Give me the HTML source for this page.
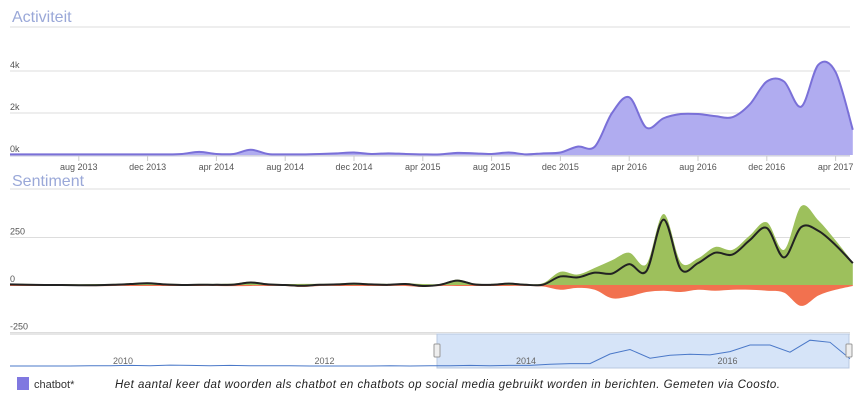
<!DOCTYPE html>
<html><head><meta charset="utf-8"><style>
body{margin:0;background:#fff;width:867px;height:405px;overflow:hidden;font-family:"Liberation Sans",sans-serif}
svg{display:block}
</style></head><body>
<svg id="c" width="867" height="405" xmlns="http://www.w3.org/2000/svg"></svg>
<script>
const months=['apr 2013','may','jun','jul','aug 2013','sep','oct','nov','dec 2013','jan','feb','mar','apr 2014','may','jun','jul','aug 2014','sep','oct','nov','dec 2014','jan','feb','mar','apr 2015','may','jun','jul','aug 2015','sep','oct','nov','dec 2015','jan','feb','mar','apr 2016','may','jun','jul','aug 2016','sep','oct','nov','dec 2016','jan','feb','mar','apr 2017','may'];
const activity=[0.03,0.03,0.03,0.03,0.03,0.03,0.03,0.03,0.03,0.03,0.05,0.15,0.05,0.05,0.25,0.05,0.03,0.03,0.05,0.08,0.12,0.05,0.08,0.05,0.03,0.03,0.1,0.08,0.05,0.12,0.03,0.08,0.12,0.4,0.4,2.0,2.75,1.3,1.75,1.95,1.95,1.85,1.8,2.4,3.5,3.5,2.3,4.3,3.95,1.2];
const positive=[8,6,5,5,4,5,6,10,14,8,5,6,6,8,18,8,5,6,6,8,12,8,6,10,5,6,28,8,6,12,6,10,70,55,90,130,170,110,374,120,140,200,185,260,330,185,415,340,235,120];
const negative=[-5,-5,-5,-5,-5,-6,-5,-5,-5,-5,-5,-5,-5,-6,-5,-5,-5,-10,-5,-5,-5,-5,-5,-5,-10,-5,-5,-5,-5,-5,-5,-8,-25,-15,-25,-70,-60,-37,-30,-37,-25,-30,-25,-25,-30,-40,-110,-55,-25,-5];
const navValues=[0,0,0,0,0.05,0.05,0.1,0.05,0.15,0.1,0.05,0.1,0.05,0.05,0.05,0,0,0,0,0.05,0,0.05,0.05,0.1,0.05,0.1,0.1,0.3,0.4,0.4,2.0,2.75,1.3,1.8,1.95,1.85,2.4,3.5,3.5,2.3,4.3,3.95,1.2];
const xTicks=['aug 2013','dec 2013','apr 2014','aug 2014','dec 2014','apr 2015','aug 2015','dec 2015','apr 2016','aug 2016','dec 2016','apr 2017'];
const actTicks=[0,2,4];
const sentTicks=[-250,0,250];
const navYears=['2010','2012','2014','2016'];

const S=document.getElementById('c');const NS='http://www.w3.org/2000/svg';
function mk(t,a,p){const e=document.createElementNS(NS,t);for(const k in a)e.setAttribute(k,a[k]);(p||S).appendChild(e);return e;}
const X0=10,DX=17.2;
const x=i=>X0+DX*i;
const yA=v=>155-v*21;
const yS=v=>285-v*0.19;
function smooth(pts){let d='M'+pts[0][0]+','+pts[0][1];for(let i=0;i<pts.length-1;i++){const p0=pts[i-1]||pts[i],p1=pts[i],p2=pts[i+1],p3=pts[i+2]||p2;
d+=` C${p1[0]+(p2[0]-p0[0])/6},${p1[1]+(p2[1]-p0[1])/6} ${p2[0]-(p3[0]-p1[0])/6},${p2[1]-(p3[1]-p1[1])/6} ${p2[0]},${p2[1]}`;}return d;}

let t=mk('text',{x:12,y:22,'font-size':16,fill:'#9aa8d8'});t.textContent='Activiteit';

t=mk('text',{x:12,y:186,'font-size':16,fill:'#9aa8d8'});t.textContent='Sentiment';

mk('line',{x1:10,x2:850,y1:27,y2:27,stroke:'#ddd'});
mk('line',{x1:10,x2:850,y1:189,y2:189,stroke:'#ddd'});

actTicks.forEach(v=>{const l=mk('line',{x1:10,x2:850,y1:yA(v),y2:yA(v),stroke:'#ddd'});

const tx=mk('text',{x:10,y:yA(v)-3,'font-size':9,fill:'#555'});tx.textContent=v+'k';
});
const ap=activity.map((v,i)=>[x(i),yA(v)]);
const line=smooth(ap);
let a=mk('path',{d:line+` L${x(activity.length-1)},155 L${x(0)},155 Z`,fill:'#b0acf0'});

a=mk('path',{d:line,fill:'none',stroke:'#7a70d8','stroke-width':2});

mk('line',{x1:10,x2:850,y1:156,y2:156,stroke:'#c8c8e0'});
xTicks.forEach(lbl=>{const i=months.indexOf(lbl);
mk('line',{x1:x(i),x2:x(i),y1:156,y2:161,stroke:'#ccc'});
const tx=mk('text',{x:x(i),y:170,'font-size':9,fill:'#555','text-anchor':'middle'});tx.textContent=lbl;
});

sentTicks.forEach(v=>{const l=mk('line',{x1:10,x2:850,y1:yS(v),y2:yS(v),stroke:'#ddd'});

const tx=mk('text',{x:10,y:yS(v)-3,'font-size':9,fill:'#555'});tx.textContent=v;
});
const n=positive.length;
const pl=smooth(positive.map((v,i)=>[x(i),yS(v)]));
let p=mk('path',{d:pl+` L${x(n-1)},${yS(0)} L${x(0)},${yS(0)} Z`,fill:'#9dc05c'});

const nl=smooth(negative.map((v,i)=>[x(i),yS(v)]));
p=mk('path',{d:nl+` L${x(n-1)},${yS(0)} L${x(0)},${yS(0)} Z`,fill:'#f2714f'});

p=mk('path',{d:smooth(positive.map((v,i)=>[x(i),yS(v+negative[i])])),fill:'none',stroke:'#222','stroke-width':2});


mk('line',{x1:10,x2:850,y1:334,y2:334,stroke:'#ccc'});
let r=mk('rect',{x:437,y:334,width:412,height:34,fill:'#d6e4f8',stroke:'#b8c8e0'});

navYears.forEach((yr,i)=>{const tx=mk('text',{x:123+201.5*i,y:364,'font-size':9,fill:'#666','text-anchor':'middle'});tx.textContent=yr;
});
const nx=i=>10+i*(840/(navValues.length-1));
const ny=v=>366-v*6;
let nv=mk('path',{d:'M'+navValues.map((v,i)=>nx(i)+','+ny(v)).join(' L'),fill:'none',stroke:'#4a78c8','stroke-width':1});

[437,849].forEach(hx=>{const h=mk('rect',{x:hx-3,y:344,width:6,height:13,fill:'#eee',stroke:'#999',rx:1});
});

r=mk('rect',{x:17,y:377,width:12,height:13,fill:'#8078e0'});

t=mk('text',{x:34,y:388,'font-size':11,fill:'#333'});t.textContent='chatbot*';

t=mk('text',{x:115,y:388,'font-size':11.5,fill:'#222','font-style':'italic',textLength:665,lengthAdjust:'spacing'});t.textContent='Het aantal keer dat woorden als chatbot en chatbots op social media gebruikt worden in berichten. Gemeten via Coosto.';

</script>
</body></html>
